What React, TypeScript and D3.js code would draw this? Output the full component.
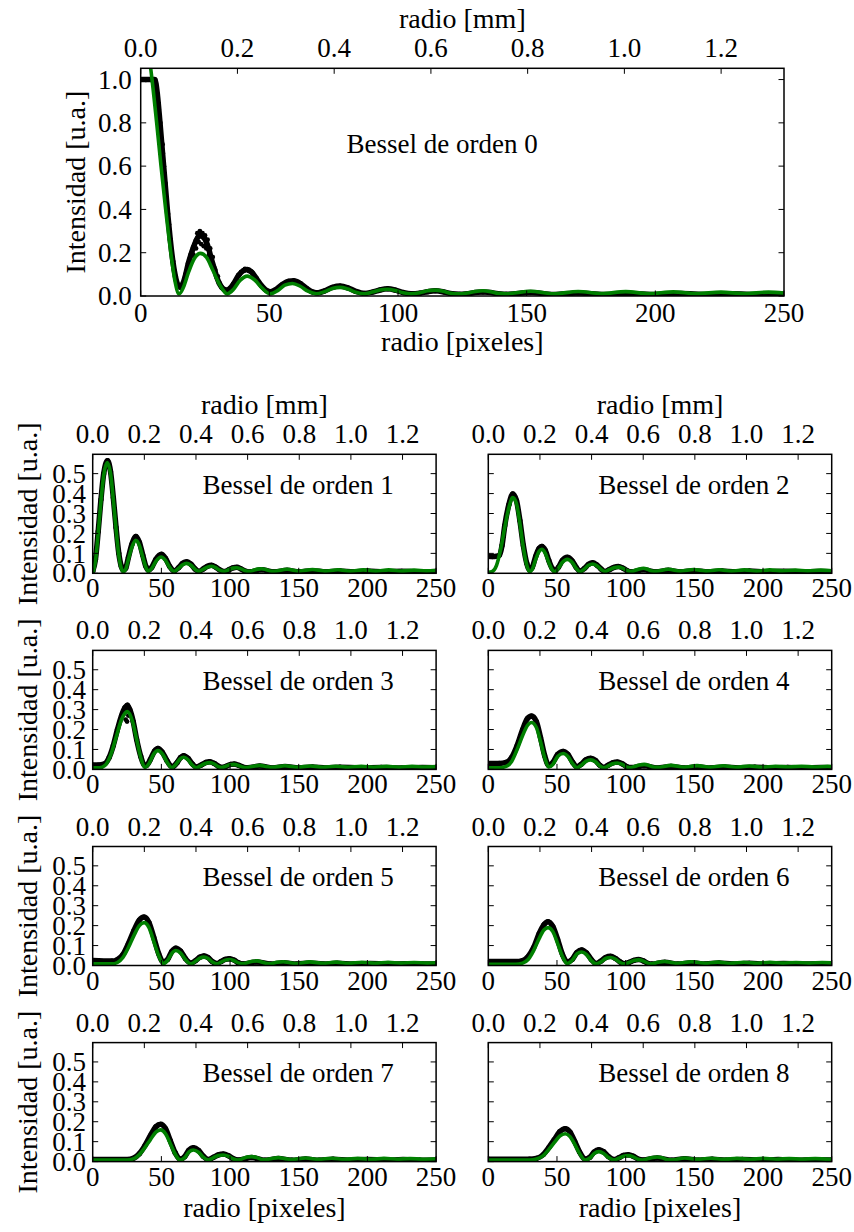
import React from 'react';
import * as d3 from 'd3';

type Pt = [number, number];

// Axis definitions
const R_MAX = 250; // radius in camera pixels
const MM_MAX = 1.33; // same range in millimetres
const PX_TICKS = [0, 50, 100, 150, 200, 250];
const MM_TICKS = [0, 0.2, 0.4, 0.6, 0.8, 1.0, 1.2];
const TOP_Y_TICKS = [0, 0.2, 0.4, 0.6, 0.8, 1.0];
const SUB_Y_TICKS = [0, 0.1, 0.2, 0.3, 0.4, 0.5];
const ORDERS = [0, 1, 2, 3, 4, 5, 6, 7, 8];

// Order 0: fitted curve (green) and measured radial profile (black)
const fit0: Pt[] = [
  [0, 1.32], [2, 1.2], [3.9, 1.05], [6.2, 0.8], [7.9, 0.6], [9.7, 0.4], [11.7, 0.2], [13.3, 0.07],
  [14.9, 0.01], [16.6, 0.04], [18.6, 0.11], [20.8, 0.172], [23.2, 0.197], [25.6, 0.178], [28, 0.12],
  [30.8, 0.05], [33.6, 0.01], [36, 0.03], [38.6, 0.072], [41.4, 0.092], [44.2, 0.075], [47.3, 0.035],
  [50.3, 0.01], [53.2, 0.025], [56, 0.05], [59, 0.058], [62, 0.045], [65, 0.022], [68.2, 0.01],
  [71.5, 0.02], [74.5, 0.035], [77.5, 0.04], [80.5, 0.032], [83.5, 0.018], [86.8, 0.01], [90, 0.018],
  [93, 0.028], [96, 0.031], [99, 0.025], [102, 0.015], [105, 0.01], [108.5, 0.015], [111.5, 0.024],
  [114.5, 0.027], [117.5, 0.022], [120.5, 0.013], [123.5, 0.01], [127, 0.014], [130, 0.021],
  [133, 0.024], [136, 0.02], [139, 0.012], [142, 0.01], [151.5, 0.022], [160.5, 0.01], [170, 0.021],
  [179, 0.011], [188.5, 0.02], [197.5, 0.011], [207, 0.019], [216, 0.011], [225.5, 0.018],
  [234.5, 0.011], [244, 0.018], [250, 0.014],
];
const data0: Pt[] = [
  [0, 1.0], [2, 1.0], [4, 1.0], [5.5, 1.0], [6.5, 0.93], [7.5, 0.8], [8.5, 0.66], [9.5, 0.52],
  [10.5, 0.38], [11.5, 0.26], [12.5, 0.16], [13.5, 0.09], [14.5, 0.05], [15.5, 0.04], [16.5, 0.06],
  [17.5, 0.1], [18.5, 0.15], [19.5, 0.19], [20.5, 0.225], [21.5, 0.255], [22.5, 0.275], [23.5, 0.28],
  [24.5, 0.27], [25.5, 0.25], [26.5, 0.215], [27.5, 0.17], [28.5, 0.13], [29.5, 0.09], [30.5, 0.06],
  [31.5, 0.04], [32.5, 0.03], [33.5, 0.027], [34.5, 0.033], [36, 0.055], [38, 0.095], [40, 0.118],
  [41.5, 0.122], [43, 0.112], [45, 0.08], [47, 0.047], [49, 0.025], [50.5, 0.02], [52.5, 0.03],
  [55, 0.053], [57.5, 0.068], [59.5, 0.07], [62, 0.058], [64.5, 0.035], [67, 0.018], [69, 0.015],
  [71.5, 0.024], [74.5, 0.04], [77.5, 0.046], [80.5, 0.038], [83.5, 0.022], [87, 0.012], [90, 0.018],
  [93, 0.028], [96, 0.033], [99, 0.027], [102, 0.016], [105, 0.01], [108.5, 0.013], [111.5, 0.02],
  [114.5, 0.024], [118, 0.018], [121, 0.01], [124, 0.008], [133, 0.018], [142, 0.008], [151.5, 0.016],
  [160.5, 0.007], [170, 0.014], [180, 0.007], [190, 0.012], [200, 0.007], [210, 0.011], [220, 0.007],
  [230, 0.01], [240, 0.007], [250, 0.008],
];
const scatter0: Pt[] = [
  [6.5, 0.88], [7, 0.86], [8, 0.72], [8.5, 0.7], [9, 0.6], [10, 0.45], [11, 0.33], [12, 0.2],
  [13, 0.12], [14, 0.06], [16, 0.05], [17, 0.08], [18, 0.12], [19, 0.17], [20, 0.2], [20.5, 0.19],
  [21, 0.24], [21.5, 0.22], [22, 0.29], [22.5, 0.25], [23, 0.3], [23.5, 0.24], [24, 0.29],
  [24.5, 0.23], [25, 0.28], [25.5, 0.22], [26, 0.26], [26.5, 0.19], [27, 0.22], [27.5, 0.15],
  [28, 0.18], [29, 0.12], [30, 0.09], [38.5, 0.1], [39, 0.11], [40.5, 0.125], [42, 0.115], [43.5, 0.105],
];

// Order 1
const fit1: Pt[] = [
  [0, 0.0], [2, 0.06], [4, 0.2], [6, 0.36], [8, 0.49], [10.5, 0.555], [13, 0.5], [15, 0.37],
  [17, 0.22], [19, 0.09], [20.8, 0.025], [22.3, 0.008], [24, 0.02], [26, 0.07], [28.5, 0.13],
  [31.3, 0.165], [34, 0.14], [36.5, 0.08], [38.7, 0.03], [40.5, 0.01], [43, 0.025], [46, 0.06],
  [49.8, 0.082], [53, 0.065], [56, 0.03], [59.2, 0.01], [62.5, 0.025], [65.5, 0.043], [68.4, 0.05],
  [71.5, 0.04], [74.5, 0.02], [77.4, 0.01], [80.5, 0.02], [83.5, 0.031], [86.5, 0.035], [89.5, 0.028],
  [92.5, 0.016], [95.5, 0.01], [99, 0.018], [102, 0.026], [104.8, 0.028], [108, 0.022], [111, 0.013],
  [114, 0.01], [117, 0.015], [120, 0.021], [123, 0.023], [126, 0.019], [129, 0.012], [132, 0.01],
  [141.5, 0.02], [150.5, 0.011], [160, 0.019], [169, 0.011], [178.5, 0.018], [187.5, 0.011],
  [197, 0.017], [206, 0.011], [215.5, 0.017], [224.5, 0.011], [234, 0.016], [243, 0.012], [250, 0.014],
];
const data1: Pt[] = [
  [0, 0.01], [2, 0.07], [4, 0.21], [6, 0.37], [8, 0.5], [10.8, 0.565], [13, 0.51], [15, 0.38],
  [17, 0.23], [19, 0.1], [20.8, 0.035], [22.3, 0.015], [24, 0.025], [26, 0.08], [28.5, 0.145],
  [31.5, 0.185], [34, 0.155], [36.5, 0.09], [38.7, 0.035], [40.5, 0.015], [43, 0.03], [46, 0.07],
  [50, 0.095], [53, 0.075], [56, 0.035], [59.2, 0.012], [62.5, 0.028], [65.5, 0.05], [68.5, 0.058],
  [71.5, 0.046], [74.5, 0.022], [77.4, 0.01], [80.5, 0.022], [83.5, 0.035], [86.5, 0.04], [89.5, 0.031],
  [92.5, 0.017], [95.5, 0.009], [99, 0.017], [102, 0.027], [105, 0.03], [108, 0.022], [111, 0.011],
  [114, 0.007], [123, 0.018], [132, 0.007], [141.5, 0.015], [150.5, 0.007], [160, 0.013], [170, 0.007],
  [180, 0.012], [190, 0.007], [200, 0.011], [212, 0.007], [225, 0.01], [237, 0.007], [250, 0.009],
];

// Order 2
const fit2: Pt[] = [
  [0, 0.005], [3, 0.01], [6, 0.04], [9, 0.12], [12, 0.23], [15, 0.33], [17.8, 0.38], [20.5, 0.35],
  [23, 0.25], [25.5, 0.13], [28, 0.04], [30, 0.008], [32, 0.02], [34.5, 0.07], [37, 0.11], [39, 0.12],
  [41.5, 0.1], [44, 0.055], [46.5, 0.018], [48.6, 0.008], [51, 0.025], [54, 0.055], [57.5, 0.07],
  [61, 0.055], [64, 0.025], [66.8, 0.008], [70, 0.022], [73, 0.04], [76, 0.047], [79, 0.038],
  [82, 0.02], [85, 0.009], [88, 0.018], [91.5, 0.028], [94.7, 0.031], [98, 0.025], [101, 0.014],
  [104, 0.009], [107, 0.015], [110, 0.022], [113, 0.025], [116, 0.02], [119, 0.012], [122, 0.01],
  [131, 0.02], [140, 0.011], [149.5, 0.019], [158.5, 0.011], [168, 0.018], [177, 0.011],
  [186.5, 0.017], [195.5, 0.011], [205, 0.017], [214, 0.012], [223.5, 0.016], [232.5, 0.012],
  [242, 0.016], [250, 0.013],
];
const data2: Pt[] = [
  [0, 0.085], [3, 0.084], [6, 0.085], [8, 0.09], [10, 0.14], [12, 0.24], [15, 0.345], [17.8, 0.398],
  [20.5, 0.365], [23, 0.265], [25.5, 0.14], [28, 0.05], [30, 0.018], [32, 0.03], [34.5, 0.085],
  [37, 0.125], [39, 0.135], [41.5, 0.115], [44, 0.065], [46.5, 0.025], [48.6, 0.013], [51, 0.03],
  [54, 0.065], [57.5, 0.08], [61, 0.063], [64, 0.03], [66.8, 0.01], [70, 0.025], [73, 0.045],
  [76, 0.053], [79, 0.042], [82, 0.022], [85, 0.009], [88, 0.018], [91.5, 0.03], [94.7, 0.034],
  [98, 0.026], [101, 0.013], [104, 0.007], [113, 0.018], [122, 0.007], [131, 0.015], [140, 0.007],
  [150, 0.013], [160, 0.007], [170, 0.012], [180, 0.007], [190, 0.011], [202, 0.007], [215, 0.01],
  [228, 0.007], [240, 0.009], [250, 0.008],
];

// Order 3
const fit3: Pt[] = [
  [0, 0.008], [5, 0.008], [9, 0.02], [13, 0.07], [17, 0.16], [21, 0.25], [25.2, 0.29], [29, 0.24],
  [32, 0.15], [35, 0.06], [37.9, 0.01], [41, 0.03], [44.5, 0.078], [47.5, 0.094], [51, 0.075],
  [54.5, 0.032], [57.7, 0.008], [60.5, 0.025], [63.5, 0.052], [66.2, 0.061], [69.5, 0.047],
  [72.5, 0.022], [75.4, 0.008], [78.5, 0.018], [82, 0.03], [85.2, 0.034], [88.5, 0.027], [91, 0.015],
  [93.7, 0.009], [97, 0.016], [100, 0.023], [102.7, 0.025], [106, 0.02], [109, 0.012], [112, 0.009],
  [117, 0.016], [121.6, 0.02], [126, 0.015], [131, 0.01], [139.8, 0.018], [149, 0.011], [158.5, 0.017],
  [167.5, 0.011], [177, 0.016], [186, 0.011], [195.5, 0.015], [204.5, 0.011], [214, 0.015],
  [223, 0.011], [232.5, 0.015], [241.5, 0.012], [250, 0.014],
];
const data3: Pt[] = [
  [0, 0.022], [4, 0.022], [8.7, 0.028], [12, 0.06], [15, 0.12], [18, 0.2], [21, 0.27], [23.5, 0.31],
  [25.2, 0.322], [27, 0.3], [29.5, 0.24], [32, 0.15], [35, 0.065], [37.5, 0.022], [39, 0.02],
  [42, 0.05], [45, 0.092], [47.5, 0.105], [50.5, 0.088], [54, 0.045], [57, 0.017], [58.5, 0.015],
  [61.5, 0.035], [64, 0.06], [66.2, 0.069], [69.5, 0.055], [72.5, 0.028], [75.5, 0.012], [79, 0.022],
  [82.5, 0.035], [85.2, 0.039], [88.5, 0.03], [91.5, 0.016], [94, 0.01], [97.5, 0.017], [100.5, 0.025],
  [103, 0.027], [106.5, 0.02], [110, 0.01], [113, 0.008], [121.6, 0.017], [131, 0.007], [140, 0.014],
  [150, 0.007], [160, 0.012], [170, 0.007], [180, 0.011], [195, 0.007], [210, 0.01], [225, 0.007],
  [240, 0.009], [250, 0.008],
];
const scatter3: Pt[] = [[23, 0.28], [24, 0.25], [25, 0.24], [25.5, 0.3], [26, 0.27]];

// Order 4
const fit4: Pt[] = [
  [0, 0.008], [8, 0.008], [13, 0.015], [17, 0.04], [21, 0.1], [25, 0.17], [28.5, 0.22], [31.5, 0.235],
  [35, 0.21], [38, 0.14], [41, 0.06], [44, 0.012], [47, 0.025], [50.5, 0.065], [54.5, 0.08],
  [58, 0.065], [61.5, 0.028], [64.5, 0.008], [67.5, 0.02], [71, 0.04], [74.5, 0.048], [78, 0.038],
  [81, 0.018], [84, 0.008], [87, 0.016], [90.5, 0.028], [94, 0.032], [97.5, 0.025], [100.5, 0.013],
  [103.5, 0.009], [106.5, 0.015], [110, 0.022], [113.5, 0.025], [117, 0.02], [120, 0.012], [123, 0.01],
  [133, 0.02], [142.5, 0.011], [152, 0.019], [161.5, 0.011], [171, 0.018], [180.5, 0.011],
  [190, 0.017], [199.5, 0.011], [209, 0.016], [218.5, 0.012], [228, 0.016], [237.5, 0.012],
  [247, 0.015], [250, 0.014],
];
const data4: Pt[] = [
  [0, 0.03], [8, 0.03], [13, 0.035], [17, 0.06], [21, 0.12], [25, 0.2], [28.5, 0.255], [31.5, 0.268],
  [35, 0.24], [38, 0.16], [41, 0.07], [44, 0.02], [47, 0.035], [50.5, 0.075], [54.5, 0.09],
  [58, 0.075], [61.5, 0.035], [64.5, 0.012], [67.5, 0.025], [71, 0.048], [74.5, 0.056], [78, 0.045],
  [81, 0.022], [84, 0.01], [87, 0.02], [90.5, 0.033], [94, 0.037], [97.5, 0.028], [100.5, 0.015],
  [104, 0.009], [113.5, 0.018], [123, 0.007], [133, 0.015], [142.5, 0.007], [152, 0.013], [162, 0.007],
  [172, 0.012], [182, 0.007], [194, 0.011], [206, 0.007], [218, 0.01], [230, 0.007], [242, 0.009],
  [250, 0.008],
];

// Order 5
const fit5: Pt[] = [
  [0, 0.008], [14, 0.008], [18, 0.015], [22, 0.04], [26, 0.09], [30, 0.15], [34, 0.2], [37.4, 0.215],
  [41, 0.19], [44.5, 0.12], [48, 0.05], [51.4, 0.01], [54.5, 0.025], [57.5, 0.06], [60.5, 0.075],
  [64, 0.062], [67.5, 0.03], [71.5, 0.008], [75, 0.022], [78, 0.037], [81, 0.042], [84, 0.035],
  [87, 0.018], [90.3, 0.008], [93.5, 0.017], [96.5, 0.027], [99.5, 0.03], [103, 0.024], [106, 0.013],
  [109.5, 0.009], [113, 0.015], [116.5, 0.021], [119.5, 0.023], [123, 0.018], [126, 0.011],
  [129.5, 0.009], [134, 0.016], [138.8, 0.019], [143.5, 0.014], [148.5, 0.01], [158, 0.018],
  [167.5, 0.011], [177, 0.017], [186.5, 0.011], [196, 0.016], [205.5, 0.011], [215, 0.016],
  [224.5, 0.012], [234, 0.015], [243.5, 0.012], [250, 0.014],
];
const data5: Pt[] = [
  [0, 0.025], [14, 0.022], [18, 0.03], [22, 0.055], [26, 0.11], [30, 0.175], [34, 0.228],
  [37.4, 0.243], [41, 0.215], [44.5, 0.14], [48, 0.06], [51.4, 0.018], [54.5, 0.03], [57.5, 0.07],
  [60.5, 0.087], [64, 0.072], [67.5, 0.035], [71.5, 0.012], [75, 0.025], [78, 0.042], [81, 0.048],
  [84, 0.04], [87, 0.02], [90.3, 0.01], [93.5, 0.02], [96.5, 0.031], [99.5, 0.034], [103, 0.027],
  [106, 0.014], [109.5, 0.008], [119.5, 0.018], [129.5, 0.007], [138.8, 0.014], [148.5, 0.007],
  [158, 0.012], [168, 0.007], [178, 0.011], [190, 0.007], [202, 0.01], [215, 0.007], [228, 0.009],
  [240, 0.007], [250, 0.008],
];

// Order 6
const fit6: Pt[] = [
  [0, 0.006], [20, 0.006], [25, 0.012], [29, 0.03], [33, 0.075], [37, 0.135], [40.5, 0.178],
  [43.5, 0.19], [47, 0.17], [50.5, 0.11], [54, 0.045], [57.5, 0.01], [61, 0.025], [64.5, 0.058],
  [68, 0.068], [71.5, 0.055], [75, 0.025], [78.5, 0.008], [82, 0.018], [85.5, 0.035], [89, 0.04],
  [92.5, 0.032], [96, 0.015], [99, 0.008], [102.5, 0.015], [106, 0.025], [109.5, 0.028], [113, 0.022],
  [116, 0.012], [119, 0.009], [123.5, 0.016], [128.5, 0.02], [133, 0.015], [138, 0.011], [148, 0.019],
  [157.5, 0.011], [167, 0.017], [176.5, 0.011], [186, 0.016], [195.5, 0.011], [205, 0.016],
  [214.5, 0.012], [224, 0.015], [233.5, 0.012], [243, 0.015], [250, 0.013],
];
const data6: Pt[] = [
  [0, 0.02], [20, 0.02], [25, 0.025], [29, 0.045], [33, 0.09], [37, 0.16], [40.5, 0.205],
  [43.5, 0.22], [47, 0.195], [50.5, 0.13], [54, 0.055], [57.5, 0.018], [61, 0.03], [64.5, 0.065],
  [68, 0.078], [71.5, 0.063], [75, 0.03], [78.5, 0.01], [82, 0.022], [85.5, 0.04], [89, 0.046],
  [92.5, 0.036], [96, 0.018], [99, 0.009], [102.5, 0.016], [106, 0.026], [109.5, 0.03], [113, 0.023],
  [116, 0.011], [119, 0.007], [128.5, 0.016], [138, 0.007], [148, 0.014], [158, 0.007], [168, 0.012],
  [178, 0.007], [190, 0.011], [202, 0.007], [215, 0.01], [228, 0.007], [240, 0.009], [250, 0.008],
];

// Order 7
const fit7: Pt[] = [
  [0, 0.008], [25, 0.008], [30, 0.015], [34, 0.035], [38, 0.07], [42, 0.11], [46, 0.148],
  [49.5, 0.159], [53, 0.14], [56.5, 0.09], [60, 0.038], [63.6, 0.008], [67, 0.02], [70, 0.048],
  [73.3, 0.058], [77, 0.047], [80.5, 0.022], [84.2, 0.008], [88, 0.02], [91.5, 0.03], [95.1, 0.033],
  [99, 0.026], [102.5, 0.013], [105.8, 0.008], [109.5, 0.016], [112.5, 0.023], [115.8, 0.025],
  [119.5, 0.02], [122.5, 0.012], [125.5, 0.009], [130.5, 0.016], [135.2, 0.02], [140, 0.015],
  [145, 0.01], [155, 0.018], [164.5, 0.011], [174, 0.017], [183.5, 0.011], [193, 0.016], [202.5, 0.011],
  [212, 0.016], [221.5, 0.012], [231, 0.015], [240.5, 0.012], [250, 0.014],
];
const data7: Pt[] = [
  [0, 0.01], [25, 0.01], [30, 0.018], [34, 0.04], [38, 0.08], [42, 0.13], [46, 0.175], [49.5, 0.187],
  [53, 0.165], [56.5, 0.105], [60, 0.045], [63.6, 0.012], [67, 0.025], [70, 0.057], [73.3, 0.07],
  [77, 0.057], [80.5, 0.027], [84.2, 0.01], [88, 0.022], [91.5, 0.034], [95.1, 0.038], [99, 0.029],
  [102.5, 0.014], [105.8, 0.008], [115.8, 0.02], [125.5, 0.007], [135.2, 0.015], [145, 0.007],
  [155, 0.013], [165, 0.007], [175, 0.012], [187, 0.007], [200, 0.011], [213, 0.007], [226, 0.01],
  [238, 0.007], [250, 0.008],
];

// Order 8
const fit8: Pt[] = [
  [0, 0.008], [30, 0.008], [35, 0.013], [40, 0.03], [44, 0.06], [48, 0.095], [52, 0.128], [56, 0.14],
  [59.5, 0.125], [63, 0.085], [66.5, 0.04], [70.5, 0.008], [74, 0.018], [77, 0.04], [80.5, 0.05],
  [84, 0.041], [87.5, 0.02], [91.5, 0.008], [95, 0.017], [98.5, 0.027], [102, 0.03], [105.5, 0.024],
  [109, 0.012], [112.5, 0.008], [116, 0.014], [119.5, 0.021], [123, 0.023], [126.5, 0.019],
  [130, 0.011], [133.5, 0.009], [143, 0.018], [152.5, 0.011], [162, 0.017], [171.5, 0.011],
  [181, 0.016], [190.5, 0.011], [200, 0.016], [209.5, 0.012], [219, 0.015], [228.5, 0.012],
  [238, 0.015], [247.5, 0.012], [250, 0.013],
];
const data8: Pt[] = [
  [0, 0.012], [30, 0.012], [35, 0.016], [40, 0.035], [44, 0.07], [48, 0.11], [52, 0.15], [56, 0.165],
  [59.5, 0.148], [63, 0.1], [66.5, 0.048], [70.5, 0.012], [74, 0.022], [77, 0.048], [80.5, 0.06],
  [84, 0.05], [87.5, 0.025], [91.5, 0.01], [95, 0.019], [98.5, 0.031], [102, 0.034], [105.5, 0.027],
  [109, 0.013], [112.5, 0.008], [123, 0.018], [133.5, 0.007], [143, 0.014], [153, 0.007], [163, 0.012],
  [173, 0.007], [185, 0.011], [198, 0.007], [211, 0.01], [224, 0.007], [237, 0.009], [250, 0.008],
];

const FITS: Pt[][] = [fit0, fit1, fit2, fit3, fit4, fit5, fit6, fit7, fit8];
const DATA: Pt[][] = [data0, data1, data2, data3, data4, data5, data6, data7, data8];
const SCATTER: Pt[][] = [scatter0, [], [], scatter3, [], [], [], [], []];

const W = 854;
const H = 1232;
const FONT = 'Liberation Serif, Times New Roman, Times, DejaVu Serif, serif';
const FS = 27;
const GREEN = '#008000';

interface PanelSpec {
  order: number;
  left: number;
  top: number;
  width: number;
  height: number;
  ymax: number;
  yTicks: number[];
  showYTickLabels: boolean;
  showYLabel: boolean;
  yLabelX: number;
  yTickPad: number;
  showMmLabel: boolean;
  showPxLabel: boolean;
  textY: number;
  bottomPad: number;
  topPad: number;
}

const fmt1 = d3.format('.1f');

function buildPanels(): PanelSpec[] {
  const panels: PanelSpec[] = [
    {
      order: 0, left: 140.7, top: 68.3, width: 643.3, height: 227.7, ymax: 1.052,
      yTicks: TOP_Y_TICKS, showYTickLabels: true, showYLabel: true, yLabelX: 85,
      yTickPad: 9, showMmLabel: true, showPxLabel: true, textY: 0.66, bottomPad: 25.7, topPad: 11.6,
    },
  ];
  const colLeft = [92.7, 488.3];
  ORDERS.slice(1).forEach((order, i) => {
    const row = Math.floor(i / 2);
    const col = i % 2;
    panels.push({
      order, left: colLeft[col], top: 454.3 + row * 196.1, width: 343.4, height: 119,
      ymax: 0.597, yTicks: SUB_Y_TICKS, showYTickLabels: col === 0,
      showYLabel: col === 0, yLabelX: 37, yTickPad: 6.7, showMmLabel: row === 0,
      showPxLabel: row === 3, textY: 0.4, bottomPad: 24, topPad: 11,
    });
  });
  return panels;
}

const PANELS = buildPanels();

function Panel({ p }: { p: PanelSpec }) {
  const x = d3.scaleLinear().domain([0, R_MAX]).range([p.left, p.left + p.width]);
  const xmm = d3.scaleLinear().domain([0, MM_MAX]).range([p.left, p.left + p.width]);
  const y = d3.scaleLinear().domain([0, p.ymax]).range([p.top + p.height, p.top]);
  const line = d3
    .line<Pt>()
    .x((d) => x(d[0]))
    .y((d) => y(d[1]))
    .curve(d3.curveMonotoneX);
  const clipId = `clip-${p.order}`;
  const bottom = p.top + p.height;
  const right = p.left + p.width;
  const tl = 5.5;
  const fit = FITS[p.order];
  const data = DATA[p.order];
  const scatter = SCATTER[p.order];
  const textStyle = { fontFamily: FONT, fontSize: FS };

  return (
    <g>
      <defs>
        <clipPath id={clipId}>
          <rect x={p.left} y={p.top} width={p.width} height={p.height} />
        </clipPath>
      </defs>
      <g clipPath={`url(#${clipId})`}>
        <path d={line(data) || ''} fill="none" stroke="#000" strokeWidth={5.5} strokeLinejoin="round" strokeLinecap="round" />
        {data.map((d, i) => (
          <circle key={`d${i}`} cx={x(d[0])} cy={y(d[1])} r={2.6} fill="#000" />
        ))}
        {scatter.map((d, i) => (
          <circle key={`s${i}`} cx={x(d[0])} cy={y(d[1])} r={2.4} fill="#000" />
        ))}
        <path d={line(fit) || ''} fill="none" stroke={GREEN} strokeWidth={3.6} strokeLinejoin="round" />
      </g>

      {/* frame */}
      <rect x={p.left} y={p.top} width={p.width} height={p.height} fill="none" stroke="#000" strokeWidth={1.5} />

      {/* bottom ticks (pixels) */}
      {PX_TICKS.map((t) => (
        <g key={`bx${t}`}>
          <line x1={x(t)} x2={x(t)} y1={bottom} y2={bottom - tl} stroke="#000" strokeWidth={1} />
          <text x={x(t)} y={bottom + p.bottomPad} textAnchor="middle" style={textStyle}>
            {String(t)}
          </text>
        </g>
      ))}

      {/* top ticks (millimetres) */}
      {MM_TICKS.map((t) => (
        <g key={`tx${t}`}>
          <line x1={xmm(t)} x2={xmm(t)} y1={p.top} y2={p.top + tl} stroke="#000" strokeWidth={1} />
          <text x={xmm(t)} y={p.top - p.topPad} textAnchor="middle" style={textStyle}>
            {fmt1(t)}
          </text>
        </g>
      ))}

      {/* y ticks on both sides */}
      {p.yTicks.map((t) => (
        <g key={`y${t}`}>
          <line x1={p.left} x2={p.left + tl} y1={y(t)} y2={y(t)} stroke="#000" strokeWidth={1} />
          <line x1={right} x2={right - tl} y1={y(t)} y2={y(t)} stroke="#000" strokeWidth={1} />
          {p.showYTickLabels && (
            <text x={p.left - p.yTickPad} y={y(t)} dy="0.34em" textAnchor="end" style={textStyle}>
              {fmt1(t)}
            </text>
          )}
        </g>
      ))}

      <text x={x(80)} y={y(p.textY)} style={textStyle}>
        {`Bessel de orden ${p.order}`}
      </text>

      {p.showYLabel && (
        <text
          transform={`translate(${p.yLabelX},${p.top + p.height / 2}) rotate(-90)`}
          textAnchor="middle"
          style={{ fontFamily: FONT, fontSize: FS + 1 }}
        >
          Intensidad [u.a.]
        </text>
      )}
      {p.showMmLabel && (
        <text x={p.left + p.width / 2} y={p.top - 40} textAnchor="middle" style={{ fontFamily: FONT, fontSize: FS + 1 }}>
          radio [mm]
        </text>
      )}
      {p.showPxLabel && (
        <text x={p.left + p.width / 2} y={bottom + 55} textAnchor="middle" style={{ fontFamily: FONT, fontSize: FS + 1 }}>
          radio [pixeles]
        </text>
      )}
    </g>
  );
}

export default function App() {
  return (
    <svg
      width={W}
      height={H}
      viewBox={`0 0 ${W} ${H}`}
      style={{ position: 'absolute', left: 0, top: 0, background: '#fff', fontFamily: FONT }}
    >
      <rect x={0} y={0} width={W} height={H} fill="#fff" />
      {PANELS.map((p) => (
        <Panel key={p.order} p={p} />
      ))}
    </svg>
  );
}
